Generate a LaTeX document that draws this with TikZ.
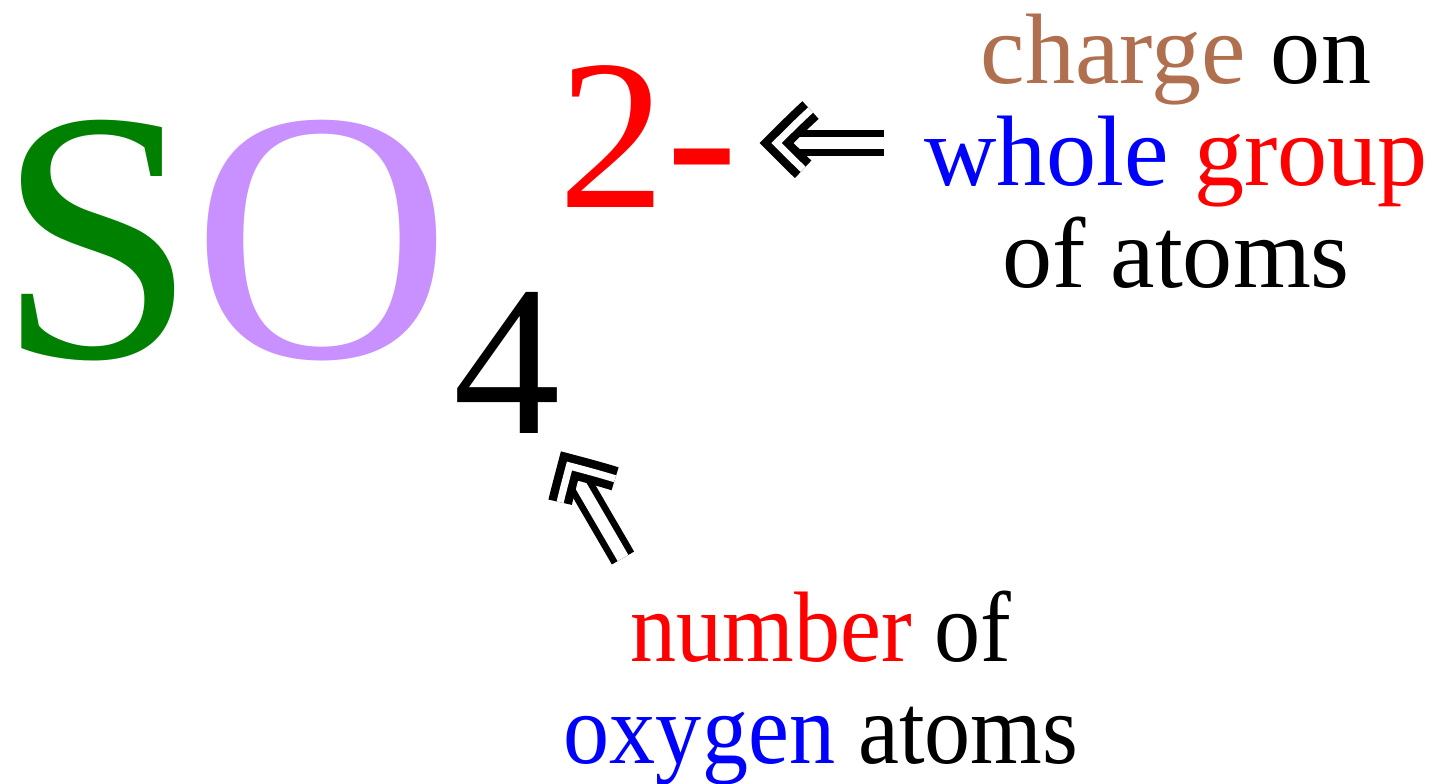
\documentclass[tikz,border=0pt]{standalone}
\usepackage{fontspec}
\setmainfont{Liberation Serif}
\newfontfamily\narrowserif[FakeStretch=0.92]{Liberation Serif}
\usepackage{xcolor}
\usetikzlibrary{arrows.meta, positioning, calc}

\definecolor{sulfur}{RGB}{0,128,0}
\definecolor{oxygen}{RGB}{200,145,255}
\definecolor{chargebrown}{RGB}{176,112,80}

\begin{document}
\begin{tikzpicture}[
    x=0.1mm, y=-0.1mm,
    every node/.style={inner sep=0pt, outer sep=0pt},
    element/.style={anchor=base west, font=\fontsize{102}{102}\selectfont},
    index/.style={anchor=base west, font=\fontsize{61}{61}\selectfont},
    note/.style={align=center, anchor=base, font=\fontsize{28.5}{29}\selectfont},
    shaft/.style={double, line width=0.67mm, double distance=1.23mm, shorten >=1mm},
    barbline/.style={double, line width=0.84mm, double distance=0.72mm},
    pics/barb/.style={code={
        \draw[barbline] (-34,33) .. controls (-22,22) and (-10,10) .. (0,0)
                        .. controls (-10,-10) and (-22,-22) .. (-34,-33);}}
]
\useasboundingbox (0,0) rectangle (1444,783);

% Formula: S O_4^{2-}
\node[element, text=sulfur] (S) at (-2,357) {S};
\node[element, text=oxygen] (O) at ([xshift=-0.5mm]S.base east) {O};
\node[index] (four) at ($(O.base east)+(2,76)$) {4};
\node[index, text=red] (charge) at ($(four.base east)+(-1.5,-226)$) {2-};

% Notes
\node[note] (chargenote) at (1176,287)
    {\textcolor{chargebrown}{charge} on \\
     \textcolor{blue}{whole} \textcolor{red}{group} \\
     of atoms};
\node[note, font=\fontsize{28.5}{29}\narrowserif] (countnote) at (821,763)
    {\textcolor{red}{number} of \\
     \textcolor{blue}{oxygen} atoms};

% Arrows
\coordinate (tailB) at (623,558);
\draw[shaft] ($(charge.east -| chargenote.west)+(-40,7)$) -- ([shift={(39,7)}]charge.east)
    pic[pos=1, sloped, allow upside down] {barb};
\draw[shaft] (tailB) -- ([shift={(9,33)}]four.south east)
    pic[pos=1, sloped, allow upside down] {barb};

\end{tikzpicture}
\end{document}
